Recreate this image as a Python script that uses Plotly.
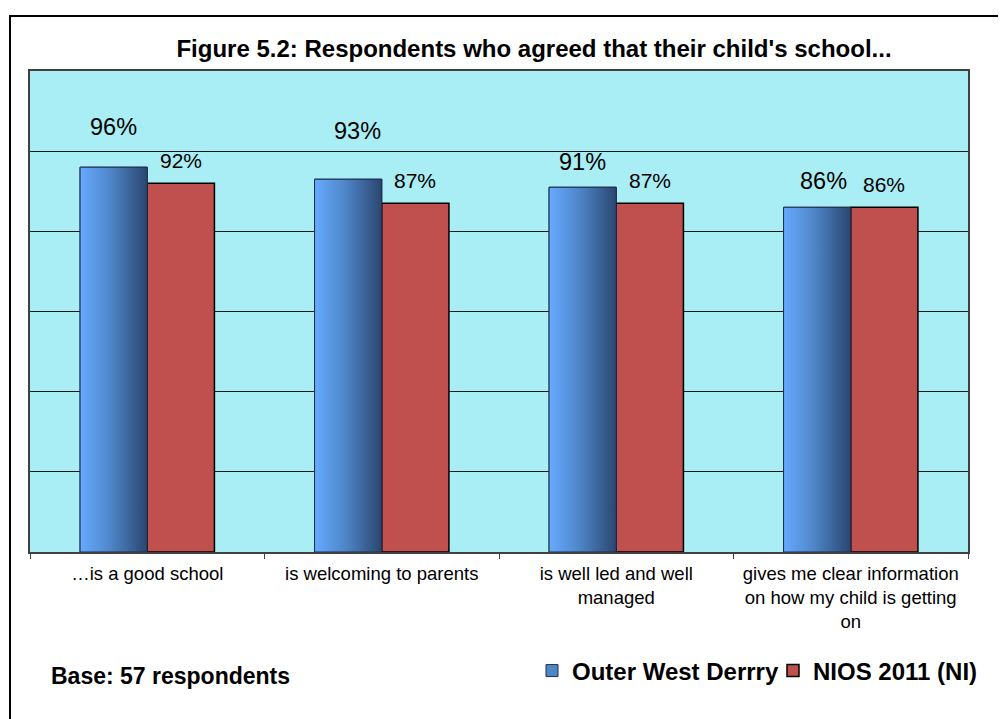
import plotly.graph_objects as go

categories = [
    "…is a good school",
    "is welcoming to parents",
    "is well led and well<br>managed",
    "gives me clear information<br>on how my child is getting<br>on",
]
series_names = ["Outer West Derrry", "NIOS 2011 (NI)"]
outer_west = [96, 93, 91, 86]
nios = [92, 87, 87, 86]

# label placement tweaks (style only, px)
outer_label_yshift = [40, 48, 25, 26]
outer_label_xshift = [0, 9, 0, 6]
nios_label_yshift = [23, 23, 23, 23]

FONT = "Liberation Sans, Arial, sans-serif"
BARGAP = 0.427
half_w = (1 - BARGAP) / 2
idx = list(range(len(categories)))

fig = go.Figure()

fig.add_trace(go.Bar(
    name=series_names[0], x=idx, y=[v / 100 for v in outer_west],
    marker=dict(color="#4F86C6", line=dict(color="#1E2E48", width=1)),
    hovertemplate="%{y:.0%}<extra>" + series_names[0] + "</extra>",
))
fig.add_trace(go.Bar(
    name=series_names[1], x=idx, y=[v / 100 for v in nios],
    marker=dict(color="#C0504D", line=dict(color="#000000", width=1.5)),
    hovertemplate="%{y:.0%}<extra>" + series_names[1] + "</extra>",
))

# gradient overlay for the blue bars
for i, v in zip(idx, outer_west):
    x0, x1 = i - half_w, i
    fig.add_trace(go.Scatter(
        x=[x0, x1, x1, x0, x0], y=[0, 0, v / 100, v / 100, 0],
        mode="lines", fill="toself",
        line=dict(color="#1E2E48", width=1),
        fillgradient=dict(type="horizontal",
                          colorscale=[[0, "#66AAFF"], [0.45, "#4F86C9"], [1, "#2A4670"]]),
        showlegend=False, hoverinfo="skip",
    ))

annotations = []
for i, v in enumerate(outer_west):
    annotations.append(dict(
        x=i - half_w / 2, y=v / 100, xref="x", yref="y", text=f"{v}%",
        showarrow=False, yanchor="middle", xanchor="center",
        yshift=outer_label_yshift[i], xshift=outer_label_xshift[i],
        font=dict(family=FONT, size=23.5, color="#000000"),
    ))
for i, v in enumerate(nios):
    annotations.append(dict(
        x=i + half_w / 2, y=v / 100, xref="x", yref="y", text=f"{v}%",
        showarrow=False, yanchor="middle", xanchor="center",
        yshift=nios_label_yshift[i],
        font=dict(family=FONT, size=21, color="#000000"),
    ))
annotations.append(dict(
    x=(49 - 30) / 938, y=(552 - 676) / 481, xref="paper", yref="paper",
    text="Base: 57 respondents",
    showarrow=False, xanchor="left", yanchor="middle",
    font=dict(family=FONT, size=23, color="#000000", weight="bold"),
))

# page body has an 8px margin: plot area sits at x 30..968, y 71..552 of the view
fig.update_layout(
    width=1006, height=719,
    margin=dict(l=22, r=46, t=63, b=175, autoexpand=False),
    paper_bgcolor="#FFFFFF",
    plot_bgcolor="#A9EDF5",
    barmode="group", bargap=BARGAP, bargroupgap=0,
    font=dict(family=FONT, color="#000000"),
    title=dict(
        text="Figure 5.2: Respondents who agreed that their child's school...",
        x=(534 - 30) / 938, xref="paper", xanchor="center",
        y=1 - 41 / 719, yref="container", yanchor="middle",
        font=dict(family=FONT, size=24, color="#000000", weight="bold"),
    ),
    xaxis=dict(
        range=[-0.5, len(categories) - 0.5],
        tickvals=idx, ticktext=categories, ticks="",
        tickfont=dict(family=FONT, size=18.5, color="#000000"),
        ticklabelstandoff=4,
        showgrid=False, zeroline=False,
        showline=True, linecolor="#404040", linewidth=1.5, mirror=True,
        minor=dict(tickvals=[i - 0.5 for i in range(len(categories) + 1)],
                   ticks="outside", ticklen=5, tickcolor="#404040", showgrid=False),
        fixedrange=True,
    ),
    yaxis=dict(
        range=[0, 1.2], dtick=0.2, showticklabels=False, ticks="",
        showgrid=True, gridcolor="#1A1A1A", gridwidth=1,
        zeroline=False,
        showline=True, linecolor="#404040", linewidth=1.5, mirror=True,
        fixedrange=True,
    ),
    legend=dict(
        orientation="h", x=(532 - 30) / 938, xanchor="left",
        y=(552 - 671) / 481, yanchor="middle",
        font=dict(family=FONT, size=24, color="#000000", weight="bold"),
        bgcolor="rgba(0,0,0,0)", traceorder="normal",
        entrywidth=196, entrywidthmode="pixels",
        itemclick=False, itemdoubleclick=False,
    ),
    annotations=annotations,
    shapes=[dict(
        type="rect", xref="paper", yref="paper",
        x0=(10 - 30) / 938, x1=(1012 - 30) / 938,
        y0=(552 - 730) / 481, y1=(552 - 16) / 481,
        line=dict(color="#000000", width=2), fillcolor="rgba(0,0,0,0)",
        layer="below",
    )],
)

fig.write_html("out.html")
